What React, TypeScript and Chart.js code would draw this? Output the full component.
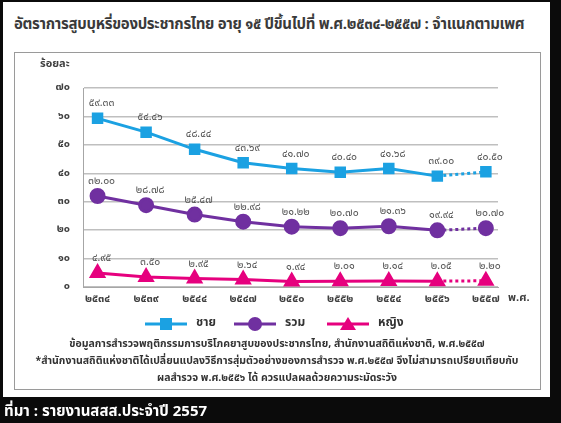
import React, { useEffect, useRef } from "react";
import { Chart, registerables } from "chart.js";

Chart.register(...registerables);

const years = ["๒๕๓๔", "๒๕๓๙", "๒๕๔๔", "๒๕๔๗", "๒๕๕๐", "๒๕๕๒", "๒๕๕๔", "๒๕๕๖", "๒๕๕๗"];
const male = [59.33, 54.46, 48.44, 43.69, 41.7, 40.4, 41.68, 39.0, 40.5];
const total = [32.0, 28.78, 25.47, 22.98, 21.22, 20.7, 21.36, 19.94, 20.7];
const female = [4.95, 3.5, 2.95, 2.64, 1.94, 2.01, 2.14, 2.05, 2.2];
const yTickLabels = ["๐", "๑๐", "๒๐", "๓๐", "๔๐", "๕๐", "๖๐", "๗๐"];
const seriesNames = ["ชาย", "รวม", "หญิง"];

const FONT = "Tahoma, 'Noto Sans Thai', Loma, Garuda, 'Noto Sans', sans-serif";
const BLUE = "#1ba1e2";
const PURPLE = "#7030a0";
const PINK = "#e6007e";

const thai = (s: string) => s.replace(/[0-9]/g, (d) => String.fromCharCode(0x0e50 + Number(d)));

export default function App() {
  const ref = useRef<HTMLCanvasElement>(null);
  useEffect(() => {
    document.body.style.margin = "0";
    const mk = (vals: number[]) => vals.map((v, i) => ({ x: i, y: v }));
    const dash = (ctx: any) => (ctx.p1DataIndex === years.length - 1 ? [3, 3] : undefined);
    const labelsPlugin = {
      id: "extras",
      afterDatasetsDraw(chart: any) {
        const c = chart.ctx;
        c.save();
        c.fillStyle = "#555";
        c.font = `10.5px ${FONT}`;
        c.textAlign = "center";
        c.textBaseline = "middle";
        chart.data.datasets.forEach((ds: any, di: number) => {
          const meta = chart.getDatasetMeta(di);
          meta.data.forEach((pt: any, i: number) => {
            c.fillText(thai(ds.data[i].y.toFixed(2)), pt.x + 4, pt.y - 14);
          });
        });
        // axis title
        c.fillStyle = "#404040";
        c.font = `bold 11px ${FONT}`;
        c.textAlign = "left";
        c.fillText("ร้อยละ", 25, 12);
        c.fillText("พ.ศ.", 493, chart.chartArea.bottom + 12);
        // legend
        const items = [
          { x0: 130, name: seriesNames[0], color: BLUE, style: "rect" },
          { x0: 219, name: seriesNames[1], color: PURPLE, style: "circle" },
          { x0: 312, name: seriesNames[2], color: PINK, style: "triangle" },
        ];
        const ly = 271;
        items.forEach((it) => {
          c.strokeStyle = it.color;
          c.fillStyle = it.color;
          c.lineWidth = 3;
          c.beginPath();
          c.moveTo(it.x0, ly);
          c.lineTo(it.x0 + 42, ly);
          c.stroke();
          const cx = it.x0 + 21;
          c.beginPath();
          if (it.style === "rect") c.rect(cx - 6, ly - 6, 12, 12);
          else if (it.style === "circle") c.arc(cx, ly, 7, 0, Math.PI * 2);
          else {
            c.moveTo(cx, ly - 7);
            c.lineTo(cx + 8, ly + 6);
            c.lineTo(cx - 8, ly + 6);
            c.closePath();
          }
          c.fill();
          c.fillStyle = "#333";
          c.font = `bold 12px ${FONT}`;
          c.textAlign = "left";
          c.fillText(it.name, it.x0 + 51, ly);
        });
        c.restore();
      },
    };
    const chart = new Chart(ref.current!, {
      type: "line",
      data: {
        datasets: [
          {
            label: seriesNames[0],
            data: mk(male),
            borderColor: BLUE,
            backgroundColor: BLUE,
            borderWidth: 3,
            pointStyle: "rect",
            pointRadius: 6,
            segment: { borderDash: dash },
          },
          {
            label: seriesNames[1],
            data: mk(total),
            borderColor: PURPLE,
            backgroundColor: PURPLE,
            borderWidth: 3,
            pointStyle: "circle",
            pointRadius: 6.5,
            segment: { borderDash: dash },
          },
          {
            label: seriesNames[2],
            data: mk(female),
            borderColor: PINK,
            backgroundColor: PINK,
            borderWidth: 3,
            pointStyle: "triangle",
            pointRadius: 7,
            segment: { borderDash: dash },
          },
        ],
      },
      options: {
        animation: false,
        responsive: false,
        layout: { padding: { top: 35, right: 40, bottom: 77, left: 0 } },
        plugins: { legend: { display: false }, tooltip: { enabled: false } },
        scales: {
          x: {
            type: "linear",
            min: -0.3,
            max: 8.25,
            afterBuildTicks: (s: any) => {
              s.ticks = years.map((_, i) => ({ value: i }));
            },
            afterFit: (s: any) => {
              s.height = 25;
            },
            grid: { display: false, drawTicks: false },
            border: { display: true, color: "#a6a6a6" },
            ticks: {
              padding: 6,
              color: "#404040",
              font: { family: FONT, size: 11, weight: "bold" },
              callback: (v: any) => years[v] ?? "",
            },
          },
          y: {
            min: 0,
            max: 70,
            afterBuildTicks: (s: any) => {
              s.ticks = yTickLabels.map((_, i) => ({ value: i * 10 }));
            },
            afterFit: (s: any) => {
              s.width = 68;
            },
            grid: { color: "#bfbfbf", lineWidth: 1.5, drawTicks: false },
            border: { display: true, color: "#a6a6a6" },
            ticks: {
              padding: 13,
              color: "#404040",
              font: { family: FONT, size: 11, weight: "bold" },
              callback: (v: any) => yTickLabels[Math.round(v / 10)] ?? "",
            },
          },
        },
      },
      plugins: [labelsPlugin],
    });
    return () => chart.destroy();
  }, []);

  const noteStyle: React.CSSProperties = {
    position: "absolute",
    left: 14,
    width: 526,
    textAlign: "center",
    fontSize: 10.5,
    fontWeight: "bold",
    color: "#333",
    whiteSpace: "nowrap",
    lineHeight: "14px",
  };

  return (
    <div
      style={{
        position: "absolute",
        left: 0,
        top: 0,
        width: 561,
        height: 423,
        background: "#0b0b0b",
        overflow: "hidden",
        fontFamily: FONT,
      }}
    >
      <div style={{ position: "absolute", left: 3, top: 2, width: 547, height: 395, background: "#fff" }} />
      <div
        style={{
          position: "absolute",
          left: 14,
          top: 13,
          fontSize: 15,
          letterSpacing: -0.3,
          fontWeight: "bold",
          color: "#3a3a3a",
          whiteSpace: "nowrap",
        }}
      >
        อัตราการสูบบุหรี่ของประชากรไทย อายุ ๑๕ ปีขึ้นไปที่ พ.ศ.๒๕๓๔-๒๕๕๗ : จำแนกตามเพศ
      </div>
      <div
        style={{
          position: "absolute",
          left: 14,
          top: 52,
          width: 525,
          height: 336,
          border: "1px solid #9a9a9a",
        }}
      />
      <canvas ref={ref} width={523} height={336} style={{ position: "absolute", left: 15, top: 53 }} />
      <div style={{ ...noteStyle, top: 337 }}>
        ข้อมูลการสำรวจพฤติกรรมการบริโภคยาสูบของประชากรไทย, สำนักงานสถิติแห่งชาติ, พ.ศ.๒๕๕๗
      </div>
      <div style={{ ...noteStyle, top: 354 }}>
        *สำนักงานสถิติแห่งชาติได้เปลี่ยนแปลงวิธีการสุ่มตัวอย่างของการสำรวจ พ.ศ.๒๕๕๗ จึงไม่สามารถเปรียบเทียบกับ
      </div>
      <div style={{ ...noteStyle, top: 371 }}>ผลสำรวจ พ.ศ.๒๕๕๖ ได้ ควรแปลผลด้วยความระมัดระวัง</div>
      <div
        style={{
          position: "absolute",
          left: 0,
          top: 397,
          width: 561,
          height: 26,
          background: "#0b0b0b",
        }}
      />
      <div
        style={{
          position: "absolute",
          left: 4,
          top: 400,
          fontSize: 15,
          fontWeight: "bold",
          color: "#fff",
          whiteSpace: "nowrap",
        }}
      >
        ที่มา : รายงานสสส.ประจำปี 2557
      </div>
    </div>
  );
}
